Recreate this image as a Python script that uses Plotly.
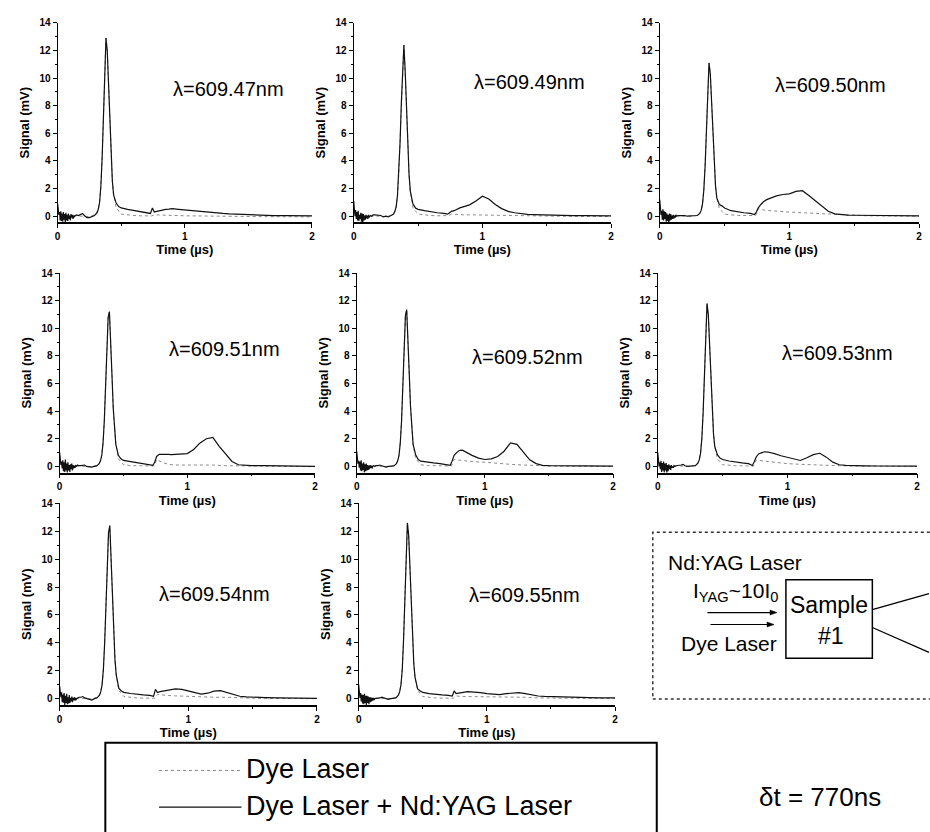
import plotly.graph_objects as go

# ---------------------------------------------------------------- data
# Time axis for the combined (dye + Nd:YAG) traces, in microseconds
t_us = [0.000, 0.005, 0.010, 0.015, 0.020, 0.025, 0.030, 0.035, 0.040, 0.045,
        0.050, 0.055, 0.060, 0.065, 0.070, 0.075, 0.080, 0.085, 0.090, 0.095,
        0.100, 0.105, 0.110, 0.115, 0.120, 0.125, 0.130, 0.140, 0.150,
        0.165, 0.180, 0.195, 0.210, 0.230, 0.250, 0.270, 0.290,
        0.310, 0.320, 0.330, 0.340, 0.350, 0.360, 0.370, 0.380, 0.390, 0.400,
        0.410, 0.420, 0.430, 0.440, 0.460, 0.480, 0.500,
        0.550, 0.600, 0.650, 0.700, 0.730, 0.745, 0.760, 0.780, 0.800, 0.825,
        0.850, 0.875, 0.900, 0.950, 1.000, 1.050, 1.100, 1.150, 1.200, 1.250,
        1.300, 1.350, 1.400, 1.450, 1.500, 1.600, 1.700, 1.800, 1.900, 2.000]

# Time axis for the dye-laser-only traces
t_dye = [0.00, 0.04, 0.08, 0.12, 0.16, 0.20, 0.25, 0.30,
         0.32, 0.33, 0.34, 0.35, 0.36, 0.37, 0.38, 0.39, 0.40, 0.41, 0.42, 0.43, 0.44,
         0.46, 0.50, 0.55, 0.60, 0.65, 0.70, 0.74,
         0.76, 0.80, 0.85, 0.90, 1.00, 1.10, 1.20, 1.30, 1.40, 1.50, 1.60, 1.80, 2.00]

wavelengths = ["609.47", "609.49", "609.50", "609.51",
               "609.52", "609.53", "609.54", "609.55"]

# Signal (mV), dye laser + Nd:YAG laser
yag_60947 = [0.9, 0.3, 0.1, 0.3, -0.3, 0.35, -0.35, 0.2, -0.4, 0.3, -0.25, 0.15, -0.45, 0.25, -0.3,
             0.1, -0.35, 0.2, -0.2, 0.05, -0.3, 0.15, -0.1, 0.1, -0.2, 0.05, -0.05, 0.05, 0.1,
             0.05, 0.15, 0.2, 0.05, -0.1, -0.1, -0.05, 0.05,
             0.26, 0.52, 1.03, 2.19, 4.26, 7.10, 10.06, 12.9, 12.0, 9.55, 6.71, 4.26, 2.58, 1.55,
             0.95, 0.7, 0.6,
             0.5, 0.42, 0.35, 0.25, 0.2, 0.6, 0.3, 0.35, 0.4, 0.45, 0.5, 0.52, 0.55, 0.5, 0.45,
             0.4, 0.35, 0.3, 0.25, 0.22, 0.2, 0.17, 0.15, 0.12, 0.1, 0.08, 0.05, 0.05, 0.03, 0.02]
yag_60949 = [1.1, 0.4, 0.0, 0.45, -0.2, 0.3, -0.3, 0.4, -0.35, 0.1, -0.2, 0.25, -0.4, 0.2, -0.45,
             0.15, -0.3, 0.05, -0.25, 0.1, -0.15, 0.05, -0.2, 0.1, -0.1, 0.0, 0.05, 0.0, 0.1,
             0.1, 0.1, 0.05, 0.05, -0.05, 0.0, -0.05, 0.05,
             0.15, 0.35, 0.7, 1.5, 3.0, 5.3, 8.2, 11.0, 12.4, 10.5, 7.6, 4.9, 3.0, 1.8,
             0.9, 0.6, 0.5,
             0.4, 0.3, 0.25, 0.2, 0.15, 0.25, 0.35, 0.4, 0.5, 0.6, 0.68, 0.75, 0.82, 1.1, 1.45,
             1.25, 0.85, 0.55, 0.35, 0.25, 0.18, 0.14, 0.12, 0.1, 0.08, 0.06, 0.05, 0.04, 0.03, 0.02]
yag_60950 = [1.2, 0.5, 0.1, 0.4, -0.25, 0.5, -0.3, 0.35, -0.2, 0.3, -0.4, 0.2, -0.35, 0.1, -0.5,
             0.2, -0.3, 0.15, -0.25, 0.05, -0.2, 0.1, -0.15, 0.05, -0.1, 0.1, 0.0, 0.05, 0.05,
             0.05, 0.1, 0.05, 0.0, 0.0, 0.05, 0.0, 0.05,
             0.22, 0.44, 0.89, 1.89, 3.66, 6.11, 8.66, 11.1, 10.32, 8.21, 5.77, 3.66, 2.22, 1.33,
             0.85, 0.75, 0.6,
             0.4, 0.3, 0.25, 0.2, 0.12, 0.3, 0.6, 0.85, 1.05, 1.2, 1.3, 1.4, 1.47, 1.57, 1.62,
             1.8, 1.85, 1.5, 1.1, 0.7, 0.36, 0.17, 0.1, 0.08, 0.07, 0.05, 0.05, 0.04, 0.03, 0.02]
yag_60951 = [1.0, 0.4, 0.1, 0.35, -0.15, 0.45, -0.35, 0.3, -0.4, 0.5, -0.3, 0.2, -0.45, 0.3, -0.3,
             0.1, -0.4, 0.15, -0.2, 0.2, -0.3, 0.1, -0.15, 0.05, -0.1, 0.05, 0.0, 0.1, 0.05,
             0.05, 0.1, 0.1, 0.0, -0.05, -0.05, 0.0, 0.04,
             0.2, 0.4, 0.8, 1.7, 3.3, 5.7, 8.4, 10.8, 11.2, 9.3, 6.6, 4.2, 2.6, 1.6,
             0.8, 0.55, 0.43,
             0.35, 0.3, 0.22, 0.15, 0.08, 0.3, 0.72, 0.87, 0.88, 0.86, 0.87, 0.85, 0.86, 0.88, 0.93,
             1.23, 1.7, 2.0, 2.1, 1.45, 0.87, 0.36, 0.12, 0.07, 0.05, 0.05, 0.04, 0.03, 0.02, 0.0]
yag_60952 = [1.1, 0.3, 0.2, 0.4, -0.1, 0.35, -0.3, 0.45, -0.35, 0.2, -0.25, 0.3, -0.45, 0.15, -0.35,
             0.2, -0.3, 0.1, -0.25, 0.05, -0.2, 0.1, -0.1, 0.05, -0.15, 0.0, 0.05, 0.0, 0.05,
             0.05, 0.1, 0.05, 0.0, -0.05, 0.0, 0.0, 0.04,
             0.2, 0.4, 0.8, 1.7, 3.3, 5.8, 8.5, 10.9, 11.35, 9.4, 6.7, 4.3, 2.6, 1.6,
             0.85, 0.5, 0.38,
             0.3, 0.25, 0.2, 0.15, 0.08, 0.4, 0.8, 1.0, 1.15, 1.18, 1.05, 0.92, 0.8, 0.6, 0.5,
             0.55, 0.72, 1.1, 1.7, 1.6, 1.05, 0.48, 0.2, 0.08, 0.05, 0.04, 0.04, 0.03, 0.02, 0.02]
yag_60953 = [1.0, 0.5, 0.0, 0.3, -0.2, 0.4, -0.4, 0.25, -0.3, 0.35, -0.45, 0.2, -0.3, 0.25, -0.5,
             0.1, -0.35, 0.15, -0.2, 0.05, -0.25, 0.1, -0.1, 0.0, -0.1, 0.05, 0.0, 0.05, 0.05,
             0.05, 0.1, 0.15, 0.05, 0.0, 0.0, 0.05, 0.05,
             0.24, 0.47, 0.94, 2.0, 3.9, 6.5, 9.2, 11.8, 10.97, 8.73, 6.14, 3.89, 2.36, 1.42,
             0.85, 0.6, 0.5,
             0.39, 0.3, 0.25, 0.2, 0.07, 0.35, 0.7, 0.92, 1.0, 1.06, 1.04, 1.0, 0.92, 0.77, 0.65,
             0.53, 0.43, 0.63, 0.85, 0.95, 0.67, 0.31, 0.12, 0.07, 0.05, 0.04, 0.03, 0.03, 0.02, 0.02]
yag_60954 = [0.9, 0.3, 0.1, 0.45, -0.25, 0.3, -0.3, 0.4, -0.45, 0.2, -0.3, 0.35, -0.4, 0.1, -0.35,
             0.25, -0.3, 0.05, -0.2, 0.15, -0.25, 0.05, -0.1, 0.1, -0.15, 0.05, -0.05, 0.05, 0.1,
             0.1, 0.15, 0.05, 0.0, -0.05, -0.1, 0.0, 0.05,
             0.25, 0.5, 1.0, 2.1, 4.0, 6.8, 9.7, 11.9, 12.4, 10.0, 7.2, 4.6, 2.8, 1.7,
             0.75, 0.55, 0.45,
             0.37, 0.3, 0.27, 0.24, 0.17, 0.66, 0.44, 0.5, 0.54, 0.57, 0.6, 0.65, 0.7, 0.66, 0.56,
             0.41, 0.32, 0.39, 0.54, 0.58, 0.44, 0.27, 0.17, 0.13, 0.1, 0.07, 0.05, 0.04, 0.03, 0.02]
yag_60955 = [1.0, 0.35, 0.05, 0.4, -0.2, 0.3, -0.35, 0.25, -0.4, 0.35, -0.3, 0.2, -0.5, 0.2, -0.3,
             0.15, -0.4, 0.1, -0.25, 0.1, -0.2, 0.05, -0.15, 0.05, -0.1, 0.0, 0.0, 0.05, 0.05,
             0.05, 0.1, 0.05, 0.0, -0.05, 0.0, 0.0, 0.05,
             0.25, 0.5, 1.0, 2.1, 4.2, 6.9, 9.8, 12.6, 11.7, 9.3, 6.55, 4.15, 2.5, 1.5,
             0.7, 0.55, 0.45,
             0.36, 0.3, 0.27, 0.24, 0.19, 0.55, 0.36, 0.4, 0.43, 0.47, 0.5, 0.49, 0.48, 0.43, 0.36,
             0.31, 0.29, 0.36, 0.4, 0.43, 0.36, 0.26, 0.19, 0.16, 0.14, 0.12, 0.1, 0.07, 0.06, 0.05]

# Signal (mV), dye laser only
dye_60947 = [0.3, 0.0, -0.1, 0.05, 0.02, 0.0, -0.03, 0.12,
             0.52, 1.03, 2.19, 4.26, 7.10, 10.06, 12.9, 12.0, 9.55, 6.71, 4.26, 2.58, 1.55,
             0.6, 0.15, 0.08, 0.05, 0.03, 0.02, 0.02,
             0.1, 0.08, 0.06, 0.05, 0.03, 0.02, 0.0, 0.0, -0.02, -0.02, -0.03, -0.04, -0.05]
dye_60949 = [0.3, 0.05, -0.05, 0.0, 0.02, 0.0, -0.02, 0.08,
             0.35, 0.7, 1.5, 3.0, 5.3, 8.2, 11.0, 12.4, 10.5, 7.6, 4.9, 3.0, 1.8,
             0.6, 0.15, 0.08, 0.05, 0.03, 0.05, 0.05,
             0.15, 0.12, 0.1, 0.1, 0.08, 0.06, 0.05, 0.04, 0.02, 0.0, 0.0, -0.02, -0.02]
dye_60950 = [0.3, 0.05, -0.05, 0.02, 0.02, 0.0, 0.0, 0.08,
             0.44, 0.89, 1.89, 3.66, 6.11, 8.66, 11.1, 10.32, 8.21, 5.77, 3.66, 2.22, 1.33,
             0.55, 0.15, 0.08, 0.05, 0.05, 0.05, 0.05,
             0.55, 0.45, 0.4, 0.35, 0.3, 0.25, 0.2, 0.15, 0.08, 0.05, 0.03, 0.02, 0.0]
dye_60951 = [0.3, 0.0, -0.05, 0.02, 0.02, 0.0, -0.02, 0.08,
             0.4, 0.8, 1.7, 3.3, 5.7, 8.4, 10.8, 11.2, 9.3, 6.6, 4.2, 2.6, 1.6,
             0.55, 0.12, 0.06, 0.05, 0.04, 0.03, 0.03,
             0.5, 0.3, 0.15, 0.1, 0.1, 0.12, 0.1, 0.05, 0.03, 0.02, 0.0, 0.0, -0.02]
dye_60952 = [0.3, 0.05, -0.05, 0.0, 0.02, 0.0, 0.0, 0.08,
             0.4, 0.8, 1.7, 3.3, 5.8, 8.5, 10.9, 11.35, 9.4, 6.7, 4.3, 2.6, 1.6,
             0.55, 0.12, 0.06, 0.05, 0.04, 0.03, 0.03,
             0.5, 0.45, 0.4, 0.35, 0.3, 0.2, 0.15, 0.1, 0.05, 0.03, 0.02, 0.0, 0.0]
dye_60953 = [0.3, 0.0, -0.05, 0.02, 0.03, 0.0, 0.0, 0.1,
             0.47, 0.94, 2.0, 3.9, 6.5, 9.2, 11.8, 10.97, 8.73, 6.14, 3.89, 2.36, 1.42,
             0.55, 0.12, 0.06, 0.05, 0.04, 0.03, 0.03,
             0.45, 0.4, 0.35, 0.3, 0.2, 0.15, 0.1, 0.1, 0.05, 0.03, 0.02, 0.0, 0.0]
dye_60954 = [0.3, 0.05, -0.05, 0.02, 0.02, 0.0, -0.02, 0.1,
             0.5, 1.0, 2.1, 4.0, 6.8, 9.7, 11.9, 12.4, 10.0, 7.2, 4.6, 2.8, 1.7,
             0.6, 0.15, 0.08, 0.05, 0.04, 0.03, 0.03,
             0.3, 0.25, 0.22, 0.2, 0.15, 0.1, 0.1, 0.1, 0.05, 0.03, 0.02, 0.0, 0.0]
dye_60955 = [0.3, 0.05, -0.05, 0.02, 0.02, 0.0, 0.0, 0.1,
             0.5, 1.0, 2.1, 4.2, 6.9, 9.8, 12.6, 11.7, 9.3, 6.55, 4.15, 2.5, 1.5,
             0.6, 0.15, 0.08, 0.05, 0.04, 0.03, 0.03,
             0.2, 0.15, 0.15, 0.15, 0.12, 0.1, 0.1, 0.1, 0.05, 0.03, 0.02, 0.02, 0.0]

combined_series = [yag_60947, yag_60949, yag_60950, yag_60951,
                   yag_60952, yag_60953, yag_60954, yag_60955]
dye_series = [dye_60947, dye_60949, dye_60950, dye_60951,
              dye_60952, dye_60953, dye_60954, dye_60955]

y_ticks = [0, 2, 4, 6, 8, 10, 12, 14]
x_ticks = [0, 1, 2]

# ---------------------------------------------------------------- layout helpers
W, H = 930, 832
FONT = "Liberation Sans, Arial, Helvetica, sans-serif"


def px(x):
    return x / W


def py(y):
    return 1 - y / H


# panel boxes in pixels: left (t=0), right (t=2), top (14 mV), bottom (axis line)
panel_boxes = [(55, 311, 17, 218), (353, 612, 17, 218), (661, 922, 17, 218),
               (57, 314, 269, 470), (356, 614, 269, 470), (659, 920, 269, 470),
               (57, 316, 501, 704), (358, 616, 501, 704)]
# wavelength label position in each panel's data coordinates
label_pos = [(1.34, 9.2), (1.37, 9.7), (1.32, 9.5), (1.29, 8.5),
             (1.33, 7.9), (1.39, 8.2), (1.20, 7.5), (1.29, 7.4)]

fig = go.Figure()
annotations = []
shapes = []
layout_axes = {}

for i, (yag, dye) in enumerate(zip(combined_series, dye_series)):
    n = "" if i == 0 else str(i + 1)
    xa, ya = "x" + n, "y" + n
    fig.add_trace(go.Scatter(x=t_dye, y=dye, xaxis=xa, yaxis=ya, mode="lines",
                             line=dict(color="#8a8a8a", width=1, dash="dot"),
                             name="Dye Laser", showlegend=False, hoverinfo="skip"))
    fig.add_trace(go.Scatter(x=t_us, y=yag, xaxis=xa, yaxis=ya, mode="lines",
                             line=dict(color="#111111", width=1.2),
                             name="Dye Laser + Nd:YAG Laser", showlegend=False))

    l, r, t, b = panel_boxes[i]
    row3 = i >= 6
    layout_axes["xaxis" + n] = dict(
        domain=[px(l), px(r)], anchor=ya, range=[0, 2],
        tickvals=x_ticks, ticks="outside", ticklen=4, tickwidth=1, tickcolor="black",
        minor=dict(ticks="outside", ticklen=2, dtick=0.5, tickcolor="black"),
        showline=True, linewidth=1.6, linecolor="black",
        showgrid=False, zeroline=False,
        tickfont=dict(family=FONT, size=10, color="black", weight="bold"),
        title=dict(text="Time (µs)", standoff=0 if row3 else 4,
                   font=dict(family=FONT, size=13, color="black", weight="bold")),
    )
    layout_axes["yaxis" + n] = dict(
        domain=[py(b), py(t)], anchor=xa, range=[-0.45, 14],
        tickvals=y_ticks, ticks="outside", ticklen=4, tickwidth=1, tickcolor="black",
        minor=dict(ticks="outside", ticklen=2, dtick=1, tickcolor="black"),
        showline=True, linewidth=1.2, linecolor="black",
        showgrid=False, zeroline=False,
        tickfont=dict(family=FONT, size=10, color="black", weight="bold"),
        title=dict(text="Signal (mV)", standoff=6,
                   font=dict(family=FONT, size=13, color="black", weight="bold")),
    )
    lx, ly = label_pos[i]
    annotations.append(dict(x=lx, y=ly, xref=xa, yref=ya, showarrow=False,
                            text="λ=" + wavelengths[i] + "nm",
                            font=dict(family=FONT, size=20, color="black")))

# ---------------------------------------------------------------- legend box
shapes.append(dict(type="rect", xref="paper", yref="paper",
                   x0=px(103), x1=px(658), y0=py(860), y1=py(742),
                   line=dict(color="black", width=2)))
shapes.append(dict(type="line", xref="paper", yref="paper",
                   x0=px(157), x1=px(240), y0=py(770), y1=py(770),
                   line=dict(color="#8a8a8a", width=1, dash="dot")))
shapes.append(dict(type="line", xref="paper", yref="paper",
                   x0=px(157), x1=px(240), y0=py(807), y1=py(807),
                   line=dict(color="#111111", width=1.2)))
annotations.append(dict(x=px(243), y=py(769), xref="paper", yref="paper",
                        xanchor="left", yanchor="middle", showarrow=False,
                        text="Dye Laser", font=dict(family=FONT, size=27, color="black")))
annotations.append(dict(x=px(243), y=py(806), xref="paper", yref="paper",
                        xanchor="left", yanchor="middle", showarrow=False,
                        text="Dye Laser + Nd:YAG Laser",
                        font=dict(family=FONT, size=27, color="black")))
annotations.append(dict(x=px(822), y=py(797), xref="paper", yref="paper",
                        xanchor="center", yanchor="middle", showarrow=False,
                        text="δt = 770ns", font=dict(family=FONT, size=26, color="black")))

# ---------------------------------------------------------------- setup sketch
shapes.append(dict(type="rect", xref="paper", yref="paper",
                   x0=px(654), x1=px(945), y0=py(698), y1=py(530),
                   line=dict(color="#333333", width=1.5, dash="dot")))
shapes.append(dict(type="rect", xref="paper", yref="paper",
                   x0=px(788), x1=px(875), y0=py(657), y1=py(578),
                   line=dict(color="black", width=1.5)))
shapes.append(dict(type="line", xref="paper", yref="paper",
                   x0=px(875), x1=px(932), y0=py(608), y1=py(592),
                   line=dict(color="black", width=1.3)))
shapes.append(dict(type="line", xref="paper", yref="paper",
                   x0=px(875), x1=px(932), y0=py(626), y1=py(651),
                   line=dict(color="black", width=1.3)))
# two beam arrows pointing at the sample: shaft + small filled head
for x_head, x_tail, y_arrow in [(779, 709, 611), (776, 712, 623)]:
    shapes.append(dict(type="line", xref="paper", yref="paper",
                       x0=px(x_tail), x1=px(x_head - 4), y0=py(y_arrow), y1=py(y_arrow),
                       line=dict(color="black", width=1.2)))
    shapes.append(dict(type="path", xref="paper", yref="paper",
                       path=(f"M {px(x_head)} {py(y_arrow)} "
                             f"L {px(x_head - 7)} {py(y_arrow - 2.5)} "
                             f"L {px(x_head - 7)} {py(y_arrow + 2.5)} Z"),
                       fillcolor="black", line=dict(color="black", width=0.5)))
sketch_text = [("Nd:YAG Laser", 737, 561, 21),
               ("I<sub>YAG</sub>~10I<sub>0</sub>", 737, 590, 21),
               ("Dye Laser", 731, 642, 21),
               ("Sample", 831, 603, 23),
               ("#1", 833, 635, 23)]
for txt, cx, cy, size in sketch_text:
    annotations.append(dict(x=px(cx), y=py(cy), xref="paper", yref="paper",
                            xanchor="center", yanchor="middle", showarrow=False,
                            text=txt, font=dict(family=FONT, size=size, color="black")))

fig.update_layout(
    width=W, height=H,
    margin=dict(l=0, r=0, t=0, b=0),
    paper_bgcolor="white", plot_bgcolor="white",
    showlegend=False,
    annotations=annotations, shapes=shapes,
    **layout_axes,
)

fig.write_html("out.html")
